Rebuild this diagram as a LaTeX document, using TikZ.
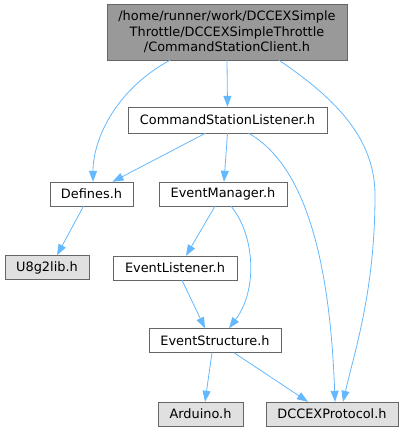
\documentclass[tikz,border=0pt]{standalone}
\usepackage{fontspec}
\setmainfont{DejaVu Sans}
\usepackage{tikz}
\usetikzlibrary{arrows.meta,calc}

\definecolor{edgeblue}{HTML}{63B8FF}
\definecolor{boxgray}{HTML}{666666}

\begin{document}
\begin{tikzpicture}[
    x=1pt, y=-1pt,
    file/.style={draw=boxgray, fill=white, minimum height=24pt, inner sep=0pt, align=center, font=\fontsize{12.9}{15.5}\selectfont},
    ext/.style={file, fill=black!12},
    main/.style={file, fill=black!40, draw=black!60},
    edge/.style={-{Triangle[length=11pt,width=8pt]}, edgeblue, line width=0.8pt}
]
\useasboundingbox (0,0) rectangle (404,432);

\node[main, minimum width=240pt, minimum height=56pt] (root) at (227,32) {/home/runner/work/DCCEXSimple\\Throttle/DCCEXSimpleThrottle\\/CommandStationClient.h};
\node[file, minimum width=199pt, minimum height=26pt] (csl) at (227.5,120) {CommandStationListener.h};
\node[file, minimum width=83pt] (defines) at (91.5,194) {Defines.h};
\node[file, minimum width=128pt] (evmgr) at (223,194) {EventManager.h};
\node[ext, minimum width=84pt] (u8g2) at (47,267.5) {U8g2lib.h};
\node[file, minimum width=124pt] (evlist) at (175,268) {EventListener.h};
\node[file, minimum width=132pt] (evstruct) at (215,340.5) {EventStructure.h};
\node[ext, minimum width=85pt] (arduino) at (200.5,414) {Arduino.h};
\node[ext, minimum width=132pt] (dccex) at (332,414) {DCCEXProtocol.h};

\draw[edge] ([xshift=-57pt]root.south) .. controls (115,90) and (93,140) .. ([xshift=1.5pt]defines.north);
\draw[edge] (root.south) -- (csl.north);
\draw[edge] ([xshift=52pt]root.south) .. controls (330,95) and (375,135) .. (375,195) .. controls (375,290) and (355,350) .. ([xshift=11pt]dccex.north);
\draw[edge] ([xshift=-22pt]csl.south) -- ([xshift=21pt]defines.north);
\draw[edge] (csl.south) -- ([xshift=1pt]evmgr.north);
\draw[edge] ([xshift=21pt]csl.south) .. controls (305,165) and (330,260) .. ([xshift=3pt]dccex.north);
\draw[edge] ([xshift=-8pt]defines.south) -- ([xshift=10pt]u8g2.north);
\draw[edge] ([xshift=-8pt]evmgr.south) -- ([xshift=11pt]evlist.north);
\draw[edge] ([xshift=8pt]evmgr.south) .. controls (255,235) and (258,290) .. ([xshift=14pt]evstruct.north);
\draw[edge] ([xshift=7pt]evlist.south) -- ([xshift=-10pt]evstruct.north);
\draw[edge] ([xshift=-3pt]evstruct.south) -- ([xshift=4.5pt]arduino.north);
\draw[edge] ([xshift=19pt]evstruct.south) -- ([xshift=-24pt]dccex.north);
\end{tikzpicture}
\end{document}
